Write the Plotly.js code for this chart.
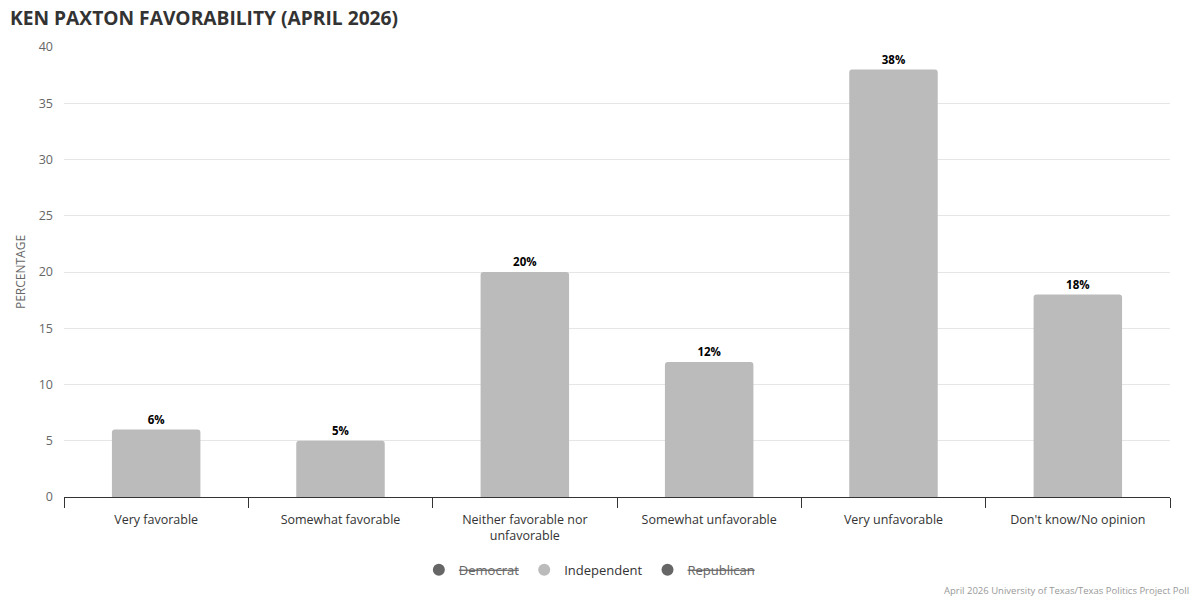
<!DOCTYPE html>
<html>
<head>
<meta charset="utf-8">
<script src="https://cdn.plot.ly/plotly-3.0.1.min.js"></script>
<style>
  html, body { margin: 0; padding: 0; background: #fff; }
  #chart { width: 1200px; height: 600px; }
</style>
</head>
<body>
<div id="chart"></div>
<script>
// Chart data
const categories = [
    'Very favorable',
    'Somewhat favorable',
    'Neither favorable nor<br>unfavorable',
    'Somewhat unfavorable',
    'Very unfavorable',
    "Don't know/No opinion"
];
const independentValues = [6, 5, 20, 12, 38, 18];
const legendNames = ['Democrat', 'Independent', 'Republican'];
const hiddenSeries = ['Democrat', 'Republican'];

const FONT = '"Open Sans", "Noto Sans", sans-serif';

const barTrace = {
    type: 'bar',
    x: categories,
    y: independentValues,
    name: 'Independent',
    showlegend: false,
    width: 0.48,
    marker: { color: '#bbbbbb', cornerradius: 3 },
    texttemplate: '%{y}%',
    textposition: 'outside',
    textfont: { family: FONT, size: 11.5, color: '#000', weight: 'bold' },
    cliponaxis: false,
    hoverinfo: 'x+y'
};

// legend entries (Highcharts-style: hidden series are greyed and struck through)
const legendTraces = legendNames.map(name => {
    const hidden = hiddenSeries.includes(name);
    return {
        type: 'scatter',
        mode: 'markers',
        x: [null],
        y: [null],
        name: hidden ? '<span style="color:#666666"><s>' + name + '</s></span>' : name,
        marker: { color: hidden ? '#666666' : '#bbbbbb', size: 12, symbol: 'circle' },
        hoverinfo: 'skip'
    };
});

const layout = {
    width: 1200,
    height: 600,
    margin: { l: 64, r: 30, t: 47, b: 103 },
    paper_bgcolor: '#ffffff',
    plot_bgcolor: '#ffffff',
    font: { family: FONT, color: '#333333' },
    title: {
        text: '<b>KEN PAXTON FAVORABILITY (APRIL 2026)</b>',
        font: { family: FONT, size: 19.2, color: '#333333' },
        x: 10 / 1200, xanchor: 'left', xref: 'container',
        y: 0.97, yanchor: 'middle'
    },
    bargap: 0.52,
    xaxis: {
        type: 'category',
        tickson: 'boundaries',
        ticks: 'outside',
        ticklen: 10,
        tickcolor: '#333333',
        showline: true,
        linecolor: '#333333',
        linewidth: 1,
        showgrid: false,
        ticklabelstandoff: 11,
        tickfont: { family: FONT, size: 12.5, color: '#333333' },
        fixedrange: true
    },
    yaxis: {
        range: [0, 40],
        dtick: 5,
        showgrid: true,
        gridcolor: '#e6e6e6',
        zeroline: false,
        tickfont: { family: FONT, size: 12.5, color: '#666666' },
        ticklabelstandoff: 10,
        title: {
            text: 'PERCENTAGE',
            font: { family: FONT, size: 12, color: '#666666' },
            standoff: 10
        },
        fixedrange: true
    },
    showlegend: true,
    legend: {
        orientation: 'h',
        x: 0.475, xanchor: 'center',
        y: -0.162, yanchor: 'middle',
        font: { family: FONT, size: 13, color: '#333333' },
        itemclick: false,
        itemdoubleclick: false
    },
    annotations: [{
        text: 'April 2026 University of Texas/Texas Politics Project Poll',
        xref: 'paper', yref: 'paper',
        x: 1.019, xanchor: 'right',
        y: -0.208, yanchor: 'middle',
        showarrow: false,
        font: { family: FONT, size: 9.5, color: '#999999' }
    }]
};

Plotly.newPlot('chart', [barTrace, ...legendTraces], layout, { displayModeBar: false, staticPlot: true });
</script>
</body>
</html>
